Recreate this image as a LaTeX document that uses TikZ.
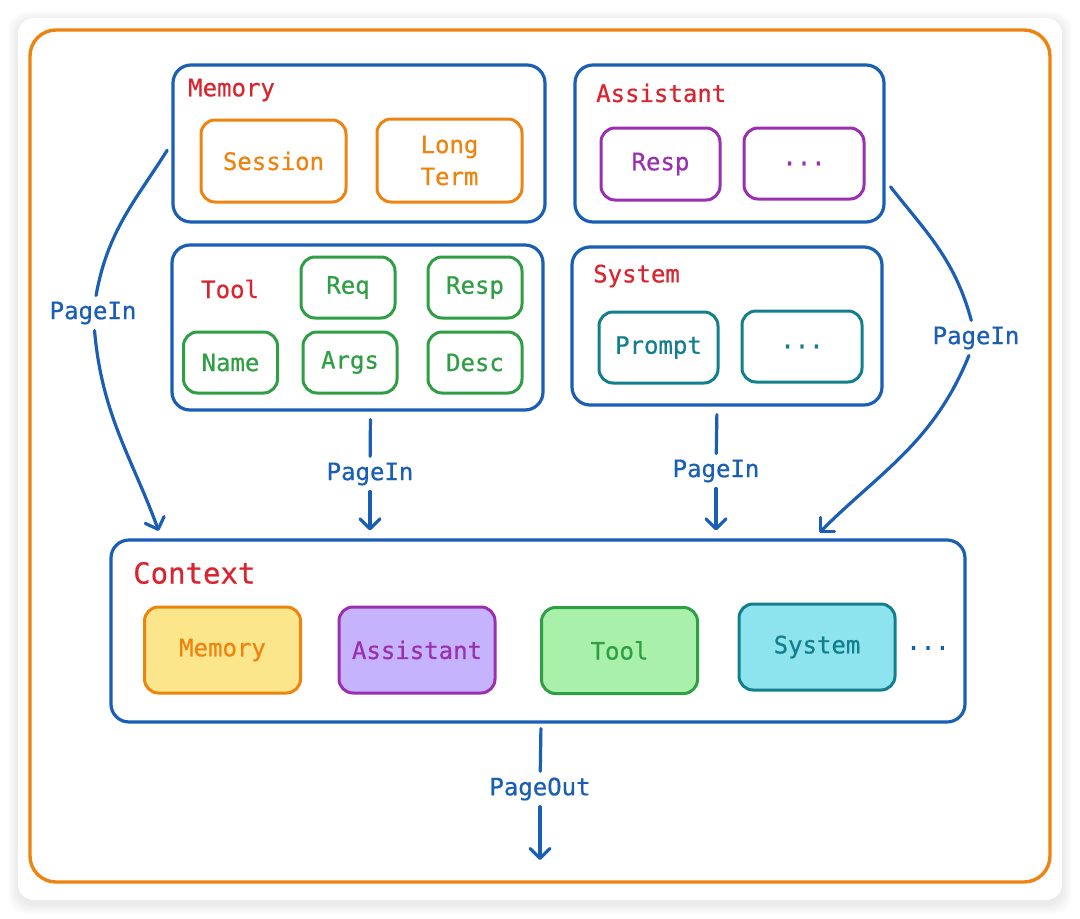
\documentclass[tikz,border=0pt]{standalone}
\usepackage{fontspec}
\newfontfamily\sketchfont[FakeBold=0.6]{DejaVu Sans Mono}
\usepackage{tikz}
\usetikzlibrary{positioning}
\usetikzlibrary{arrows.meta}
\definecolor{lineblue}{HTML}{1A5FB4}
\definecolor{titlered}{HTML}{D9252F}
\definecolor{memorange}{HTML}{EE8410}
\definecolor{toolgreen}{HTML}{2F9E44}
\definecolor{asstpurple}{HTML}{9A2FB0}
\definecolor{systeal}{HTML}{137F8C}
\definecolor{memfill}{HTML}{FCE68C}
\definecolor{asstfill}{HTML}{C5B3FD}
\definecolor{toolfill}{HTML}{A9F1AA}
\definecolor{sysfill}{HTML}{8DE3EE}
\newcommand{\boxfont}{\sketchfont\fontsize{24}{32}\selectfont}
\tikzset{
  group/.style={draw=lineblue, line width=3.2pt, rounded corners=18pt, inner sep=0pt},
  title/.style={anchor=west, inner sep=0pt, text=titlered, font=\boxfont},
  item/.style={line width=3pt, rounded corners=14pt, inner sep=0pt, align=center, font=\boxfont},
  link/.style={draw=lineblue, line width=3.2pt, line cap=round},
  pagein/.style={link, -{Straight Barb[length=10pt,width=20pt,round]}},
  lbl/.style={text=lineblue, font=\boxfont, inner sep=6pt}
}

\begin{document}
\begin{tikzpicture}[x=1pt,y=-1pt]
\useasboundingbox (0,0) rectangle (1080,919);
\fill[white] (0,0) rectangle (1080,919);
% card with soft shadow
\foreach \s in {1,...,10}{
\fill[black, opacity=0.008, rounded corners=18pt] (18-\s,21-\s) rectangle (1062+\s,904+\s);
}
\fill[white, rounded corners=16pt] (18,18) rectangle (1062,900);
\draw[memorange, line width=3.4pt, rounded corners=26pt] (30,30) rectangle (1050,882);

% source groups
\node[group, minimum width=372pt, minimum height=157pt] (mem) at (359,143.5) {};
\node[title] at (188,90) {Memory};
\node[item, draw=memorange, text=memorange, minimum width=145pt, minimum height=82pt] (ses) at (273.5,161) {Session};
\node[item, draw=memorange, text=memorange, minimum width=145pt, minimum height=83pt] (long) at (449.5,160.5) {Long\\Term};

\node[group, minimum width=309pt, minimum height=157pt] (asst) at (729.5,143.5) {};
\node[title] at (596,93) {Assistant};
\node[item, draw=asstpurple, text=asstpurple, minimum width=119pt, minimum height=72pt] (aresp) at (660.5,164) {Resp};
\node[item, draw=asstpurple, text=asstpurple, minimum width=120pt, minimum height=71pt] (amore) at (804,163.5) {...};

\node[group, minimum width=371pt, minimum height=165pt] (tool) at (357.5,327.5) {};
\node[title] at (201,289) {Tool};
\foreach \n/\t/\x/\y in {req/Req/348/287.5, tresp/Resp/475/287.5, name/Name/230.5/362.5, args/Args/350/362.5, desc/Desc/475/362.5}{
\node[item, draw=toolgreen, text=toolgreen, minimum width=94pt, minimum height=61pt] (\n) at (\x,\y) {\t};
}

\node[group, minimum width=310pt, minimum height=158pt] (sys) at (727,326) {};
\node[title] at (593,276) {System};
\node[item, draw=systeal, text=systeal, minimum width=119pt, minimum height=71pt] (prompt) at (658.5,347.5) {Prompt};
\node[item, draw=systeal, text=systeal, minimum width=120pt, minimum height=71pt] (smore) at (802,346.5) {...};

% context
\node[group, minimum width=854pt, minimum height=182pt] (ctx) at (538,631) {};
\node[title, font=\sketchfont\fontsize{29}{34}\selectfont] at (133,573) {Context};
\foreach \n/\t/\c/\f/\x/\y in {cmem/Memory/memorange/memfill/222.5/650, casst/Assistant/asstpurple/asstfill/417/650, ctool/Tool/toolgreen/toolfill/619.5/650.5, csys/System/systeal/sysfill/817/647}{
\node[item, draw=\c, fill=\f, text=\c, minimum width=156pt, minimum height=86pt] (\n) at (\x,\y) {\t};
}
\node[text=lineblue, font=\boxfont] (cmore) at (928,648) {...};

% page in / page out
\node[lbl] (pgMem) at (93,313) {PageIn};
\node[lbl] (pgTool) at (370,474) {PageIn};
\node[lbl] (pgSys) at (716,471) {PageIn};
\node[lbl] (pgAsst) at (976,338) {PageIn};
\node[lbl] (pgOut) at (540,789) {PageOut};
\coordinate (out) at (540,860);

\draw[link, shorten <=8pt] (mem.west) to[out=238,in=80] (pgMem);
\draw[pagein, shorten >=8pt] (pgMem) to[out=-85,in=110] ([xshift=52pt]ctx.north west);
\draw[link, shorten <=8pt] ([xshift=13pt]tool.south) -- (pgTool);
\draw[pagein, shorten >=8pt] (pgTool) -- (pgTool |- ctx.north);
\draw[link, shorten <=8pt] ([xshift=-10pt]sys.south) -- (pgSys);
\draw[pagein, shorten >=8pt] (pgSys) -- (pgSys |- ctx.north);
\draw[link, shorten <=8pt] ([yshift=-37pt]asst.east) to[out=-52,in=105] (pgAsst);
\draw[pagein, shorten >=8pt] (pgAsst) to[out=-112,in=45] ([xshift=-153pt]ctx.north east);
\draw[link, shorten <=5pt] ([xshift=3pt]ctx.south) -- (pgOut);
\draw[pagein] (pgOut) -- (out);
\end{tikzpicture}
\end{document}
